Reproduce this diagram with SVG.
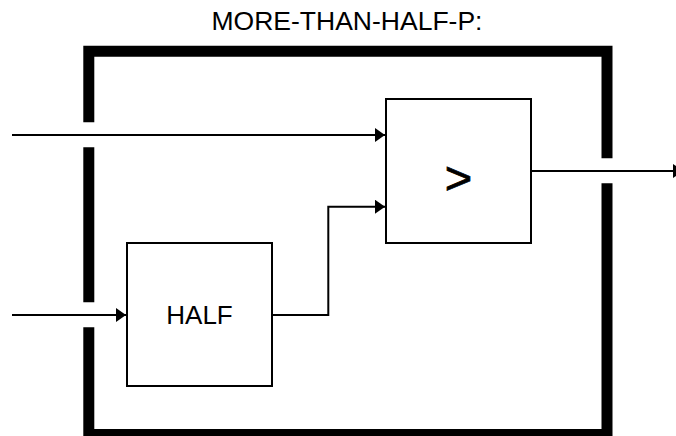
<svg xmlns="http://www.w3.org/2000/svg" width="676" height="436" viewBox="0 0 676 436">
<style>
.frame{fill:none;stroke:#000;stroke-width:11;stroke-linejoin:miter;stroke-linecap:butt}
.box{fill:#fff;stroke:#000;stroke-width:2}
.wire{fill:none;stroke:#000;stroke-width:2}
.lbl{font-family:"Liberation Sans",Arial,sans-serif;fill:#000;text-anchor:middle}
</style>
<defs>
<marker id="arr" markerUnits="userSpaceOnUse" markerWidth="10" markerHeight="14" refX="10" refY="7" orient="auto">
<path d="M0,0 L10,7 L0,14 Z" fill="#000"/>
</marker>
</defs>
<rect width="676" height="436" fill="#fff"/>
<text class="lbl" x="347" y="30" font-size="26.5">MORE-THAN-HALF-P:</text>
<g id="frame">
<path class="frame" d="M88.8,122.3 V51.2 H607 V158.3"/>
<path class="frame" d="M88.8,147.3 V302.3"/>
<path class="frame" d="M88.8,327.3 V434.5 H607 V183.3"/>
</g>
<g id="connectors">
<path class="wire" d="M12,135 H385" marker-end="url(#arr)"/>
<path class="wire" d="M12,315 H126" marker-end="url(#arr)"/>
<path class="wire" d="M271,315 H328.3 V206.7 H385" marker-end="url(#arr)"/>
<path class="wire" d="M531,171 H683" marker-end="url(#arr)"/>
</g>
<g id="half">
<rect class="box" x="127" y="243" width="145" height="143"/>
<text class="lbl" x="199.5" y="324.3" font-size="26">HALF</text>
</g>
<g id="gt">
<rect class="box" x="386" y="99" width="145" height="144"/>
<text class="lbl" x="458.5" y="193.5" font-size="47" stroke="#000" stroke-width="0.8">&gt;</text>
</g>
</svg>
